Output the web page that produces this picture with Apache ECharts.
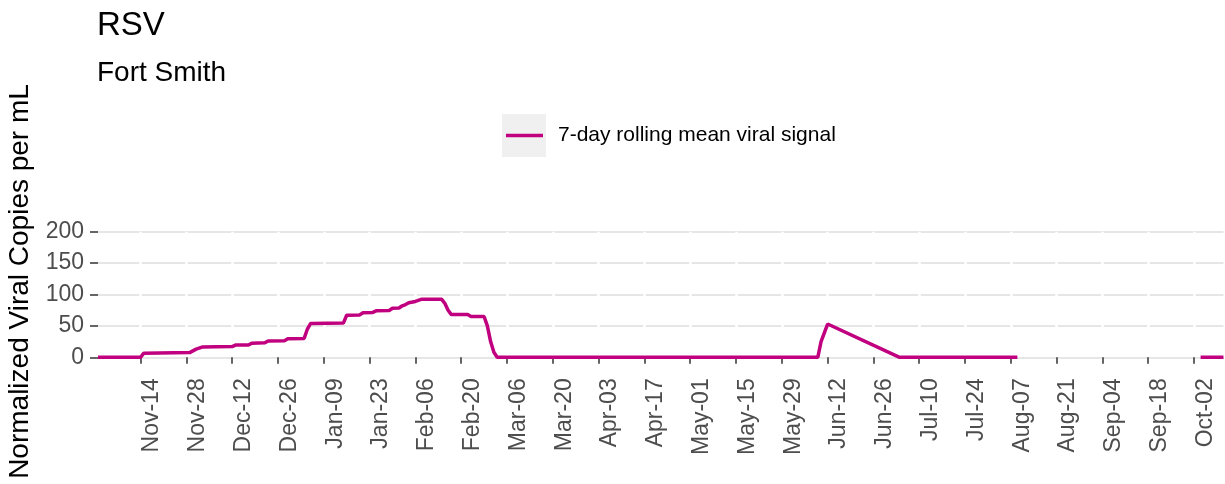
<!DOCTYPE html>
<html>
<head>
<meta charset="utf-8">
<title>RSV - Fort Smith</title>
<script src="https://cdn.jsdelivr.net/npm/echarts@6/dist/echarts.min.js"></script>
<style>
  html, body { margin: 0; padding: 0; background: #fff; }
  #chart { width: 1225px; height: 484px; }
</style>
</head>
<body>
<div id="chart"></div>
<script>
// 7-day rolling mean viral signal (null = no data)
var dates = [
  '2022-11-01', '2022-11-14', '2022-11-15', '2022-11-29', '2022-12-01', '2022-12-03',
  '2022-12-12', '2022-12-13', '2022-12-17', '2022-12-18', '2022-12-22', '2022-12-23',
  '2022-12-28', '2022-12-29', '2023-01-03', '2023-01-04', '2023-01-05', '2023-01-15',
  '2023-01-16', '2023-01-20', '2023-01-21', '2023-01-24', '2023-01-25', '2023-01-29',
  '2023-01-30', '2023-02-01', '2023-02-02', '2023-02-03', '2023-02-04', '2023-02-06',
  '2023-02-08', '2023-02-14', '2023-02-15', '2023-02-16', '2023-02-17', '2023-02-22',
  '2023-02-23', '2023-02-27', '2023-02-28', '2023-03-01', '2023-03-02', '2023-03-03',
  '2023-06-09', '2023-06-10', '2023-06-12', '2023-07-04', '2023-08-09', '2023-09-01',
  '2023-10-04', '2023-10-11'
];
var values = [
  0, 0, 6.5, 7.5, 13, 16.5,
  17, 19.5, 19.5, 22.5, 23, 26,
  26.5, 29.5, 30, 45, 54, 54.5,
  67, 67.5, 71, 71.5, 74, 74.5,
  78, 78.5, 82, 84, 87, 89,
  92.5, 92.5, 86, 75, 68, 68,
  65, 65, 50, 25, 8, 0,
  0, 25, 53, 0, 0, null,
  0, 0
];

var tickDates = [
  '2022-11-14', '2022-11-28', '2022-12-12', '2022-12-26', '2023-01-09', '2023-01-23',
  '2023-02-06', '2023-02-20', '2023-03-06', '2023-03-20', '2023-04-03', '2023-04-17',
  '2023-05-01', '2023-05-15', '2023-05-29', '2023-06-12', '2023-06-26', '2023-07-10',
  '2023-07-24', '2023-08-07', '2023-08-21', '2023-09-04', '2023-09-18', '2023-10-02'
];
var xStart = '2022-11-01';
var xEnd = '2023-10-11';
var monthNames = ['Jan', 'Feb', 'Mar', 'Apr', 'May', 'Jun', 'Jul', 'Aug', 'Sep', 'Oct', 'Nov', 'Dec'];

var lineColor = '#c0007f';
var fontFamily = '"Liberation Sans", Arial, sans-serif';

function toTime(s) {
  var p = s.split('-');
  return Date.UTC(+p[0], +p[1] - 1, +p[2]);
}

var tickTimes = tickDates.map(toTime);

var legendIcon = 'image://data:image/svg+xml;utf8,' + encodeURIComponent(
  '<svg xmlns="http://www.w3.org/2000/svg" width="44" height="43">' +
  '<rect width="44" height="43" fill="#f0f0f0"/>' +
  '<line x1="4" y1="21.5" x2="41" y2="21.5" stroke="' + lineColor + '" stroke-width="3.5"/>' +
  '</svg>'
);

var chart = echarts.init(document.getElementById('chart'));

var option = {
  backgroundColor: '#fff',
  animation: false,
  textStyle: { fontFamily: fontFamily },
  title: [
    { text: 'RSV', left: 97, top: 9, padding: 0,
      textStyle: { fontSize: 33, fontWeight: 'normal', color: '#000', fontFamily: fontFamily } },
    { text: 'Fort Smith', left: 97, top: 59, padding: 0,
      textStyle: { fontSize: 28, fontWeight: 'normal', color: '#000', fontFamily: fontFamily } }
  ],
  legend: {
    left: 502,
    top: 114,
    padding: 0,
    itemWidth: 44,
    itemHeight: 43,
    icon: legendIcon,
    textStyle: { fontSize: 21, color: '#000', padding: [0, 0, 0, 7], fontFamily: fontFamily },
    data: ['7-day rolling mean viral signal']
  },
  grid: {
    left: 98,
    right: 1.5,
    top: 231.7,
    bottom: 126.7,
    containLabel: false,
    outerBoundsMode: 'none'
  },
  xAxis: {
    type: 'value',
    min: toTime(xStart),
    max: toTime(xEnd),
    offset: 5,
    z: 1,
    axisLine: { show: false },
    axisTick: {
      show: true,
      length: 6.5,
      customValues: tickTimes,
      lineStyle: { color: '#333', width: 1.5 }
    },
    axisLabel: {
      customValues: tickTimes,
      rotate: 90,
      margin: 16,
      verticalAlign: 'top',
      fontSize: 23,
      color: '#4d4d4d',
      fontFamily: fontFamily,
      formatter: function (value) {
        var d = new Date(value);
        var day = d.getUTCDate();
        return monthNames[d.getUTCMonth()] + '-' + (day < 10 ? '0' + day : day);
      }
    },
    splitLine: { show: true, lineStyle: { color: '#fff', width: 2.5 } }
  },
  yAxis: {
    type: 'value',
    min: 0,
    max: 200,
    interval: 50,
    z: 0,
    name: 'Normalized Viral Copies per mL',
    nameLocation: 'middle',
    nameRotate: 90,
    nameGap: 60,
    nameTextStyle: { fontSize: 28, color: '#000', fontFamily: fontFamily, padding: [0, 0, 0, 26] },
    axisLine: { show: false },
    axisTick: { show: true, length: 8, lineStyle: { color: '#333', width: 1.5 } },
    axisLabel: { margin: 14, fontSize: 23, color: '#4d4d4d', fontFamily: fontFamily },
    splitLine: { show: true, lineStyle: { color: '#dedede', width: 1.5 } }
  },
  series: [{
    name: '7-day rolling mean viral signal',
    type: 'line',
    data: dates.map(function (d, i) { return [toTime(d), values[i]]; }),
    showSymbol: false,
    connectNulls: false,
    lineStyle: { color: lineColor, width: 3.5 },
    itemStyle: { color: lineColor }
  }]
};

chart.setOption(option);
</script>
</body>
</html>
